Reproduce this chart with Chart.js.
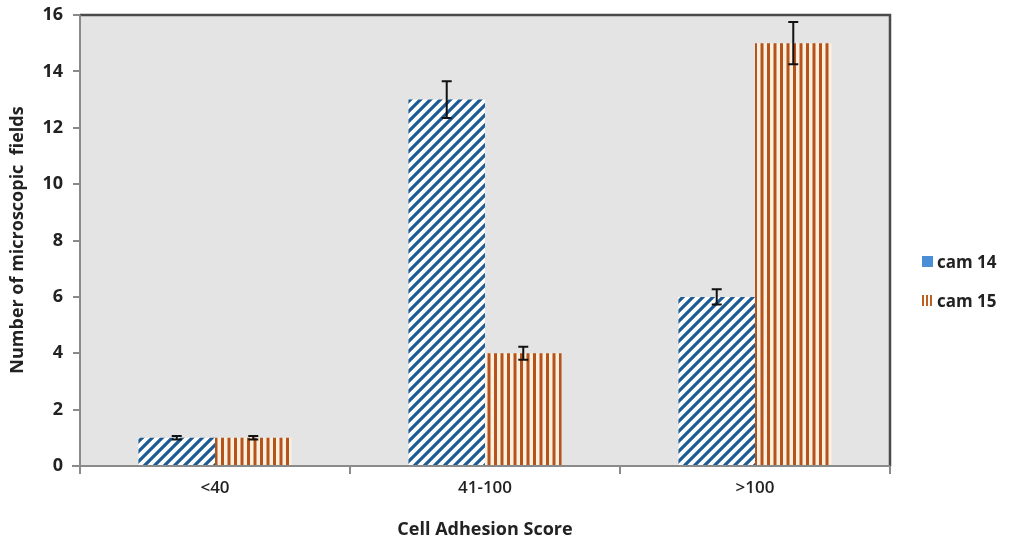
<!DOCTYPE html>
<html><head><meta charset="utf-8">
<script src="https://cdn.jsdelivr.net/npm/chart.js@4.4.0/dist/chart.umd.min.js"></script>
<style>
html,body{margin:0;padding:0;background:#fff;}
#wrap{position:relative;width:1009px;height:542px;}
canvas{position:absolute;left:0;top:0;}
.leg{position:absolute;left:922px;font:bold 17px "Open Sans",sans-serif;color:#222;display:flex;align-items:center;}
.sw{width:11px;height:11px;margin-right:4px;}
</style></head>
<body><div id="wrap"><canvas id="c" width="1009" height="542"></canvas>
<div class="leg" style="top:250px"><div class="sw" style="background:#4a8fd6"></div>cam 14</div>
<div class="leg" style="top:289px"><div class="sw" style="background:repeating-linear-gradient(90deg,#c0601f 0 2px,#fff 2px 4px)"></div>cam 15</div>
</div>
<script>
const categories = ['<40', '41-100', '>100'];
const cam14 = [1, 13, 6];
const cam15 = [1, 4, 15];
const cam14Err = [0.06, 0.65, 0.27];
const cam15Err = [0.06, 0.23, 0.75];
const yTicks = [0, 2, 4, 6, 8, 10, 12, 14, 16];

function diagPattern(){
  const s = 10, c = document.createElement('canvas'); c.width = s; c.height = s;
  const x = c.getContext('2d');
  x.fillStyle = '#ffffff'; x.fillRect(0,0,s,s);
  x.strokeStyle = '#1c5b94'; x.lineWidth = 3.2;
  x.beginPath();
  x.moveTo(-2, s+2); x.lineTo(s+2, -2);
  x.moveTo(-2, 2); x.lineTo(2, -2);
  x.moveTo(s-2, s+2); x.lineTo(s+2, s-2);
  x.stroke();
  return x.createPattern(c, 'repeat');
}
function vertPattern(){
  const c = document.createElement('canvas'); c.width = 13; c.height = 4;
  const x = c.getContext('2d');
  x.fillStyle = '#fdf0de'; x.fillRect(0,0,13,4);
  x.fillStyle = '#b5531d';
  x.fillRect(0,0,3,4); x.fillRect(6.5,0,3,4);
  return x.createPattern(c, 'repeat');
}

const errPlugin = {
  id: 'errs',
  afterDatasetsDraw(chart){
    const ctx = chart.ctx, y = chart.scales.y;
    const errs = [cam14Err, cam15Err];
    chart.data.datasets.forEach((ds, di) => {
      chart.getDatasetMeta(di).data.forEach((bar, i) => {
        const v = ds.data[i], e = errs[di][i];
        const yt = y.getPixelForValue(v + e), yb = y.getPixelForValue(v - e);
        ctx.save(); ctx.strokeStyle = '#111'; ctx.lineWidth = 2;
        ctx.beginPath();
        ctx.moveTo(bar.x, yt); ctx.lineTo(bar.x, yb);
        ctx.moveTo(bar.x - 5, yt); ctx.lineTo(bar.x + 5, yt);
        ctx.moveTo(bar.x - 5, yb); ctx.lineTo(bar.x + 5, yb);
        ctx.stroke(); ctx.restore();
      });
    });
  }
};
const bgPlugin = {
  id: 'bg',
  beforeDraw(chart){
    const a = chart.chartArea, ctx = chart.ctx;
    ctx.save(); ctx.fillStyle = '#e4e4e4';
    ctx.fillRect(a.left, a.top, a.right - a.left, a.bottom - a.top);
    ctx.restore();
  },
  afterDraw(chart){
    const a = chart.chartArea, ctx = chart.ctx;
    ctx.save();
    ctx.strokeStyle = '#4a4a4a'; ctx.lineWidth = 2.5;
    ctx.beginPath(); ctx.moveTo(a.left, a.top); ctx.lineTo(a.right, a.top); ctx.lineTo(a.right, a.bottom); ctx.stroke();
    ctx.strokeStyle = '#8a8a8a'; ctx.lineWidth = 2;
    ctx.beginPath(); ctx.moveTo(a.left, a.top); ctx.lineTo(a.left, a.bottom + 6); ctx.moveTo(a.left - 8, a.bottom); ctx.lineTo(a.right, a.bottom); ctx.stroke();
    ctx.fillStyle = '#222';
    ctx.font = 'bold 18px "Open Sans", sans-serif';
    ctx.textAlign = 'center'; ctx.textBaseline = 'middle';
    ctx.fillText('Cell Adhesion Score', (a.left + a.right) / 2, 530);
    ctx.translate(18, 240); ctx.rotate(-Math.PI / 2);
    ctx.font = 'bold 18px "Open Sans", sans-serif';
    ctx.fillText('Number of microscopic  fields', 0, 0);
    ctx.restore();
  }
};

new Chart(document.getElementById('c'), {
  type: 'bar',
  data: {
    labels: categories,
    datasets: [
      { label: 'cam 14', data: cam14, backgroundColor: diagPattern(), borderWidth: 0 },
      { label: 'cam 15', data: cam15, backgroundColor: vertPattern(), borderWidth: 0 }
    ]
  },
  options: {
    responsive: false, animation: false, devicePixelRatio: 1,
    layout: { padding: { left: 0, right: 119, top: 15, bottom: 0 } },
    categoryPercentage: 0.567, barPercentage: 1,
    plugins: { legend: { display: false }, tooltip: { enabled: false } },
    scales: {
      x: {
        offset: true,
        grid: { offset: true, drawOnChartArea: false, color: '#8a8a8a', lineWidth: 2, tickLength: 8 },
        border: { display: false },
        ticks: { color: '#222', font: { family: 'Open Sans', size: 17, weight: '600' }, padding: 4 },
        afterFit(s){ s.height = 76; s.paddingLeft = 0; s.paddingRight = 0; }
      },
      y: {
        min: 0, max: 16,
        afterBuildTicks(s){ s.ticks = yTicks.map(v => ({ value: v })); },
        grid: { drawOnChartArea: false, color: '#8a8a8a', lineWidth: 2, tickLength: 7 },
        border: { display: false },
        ticks: { color: '#222', font: { family: 'Open Sans', size: 18, weight: 'bold' }, padding: 10 },
        afterFit(s){ s.width = 80; s.paddingTop = 0; s.paddingBottom = 0; }
      }
    }
  },
  plugins: [bgPlugin, errPlugin]
});
</script></body></html>
